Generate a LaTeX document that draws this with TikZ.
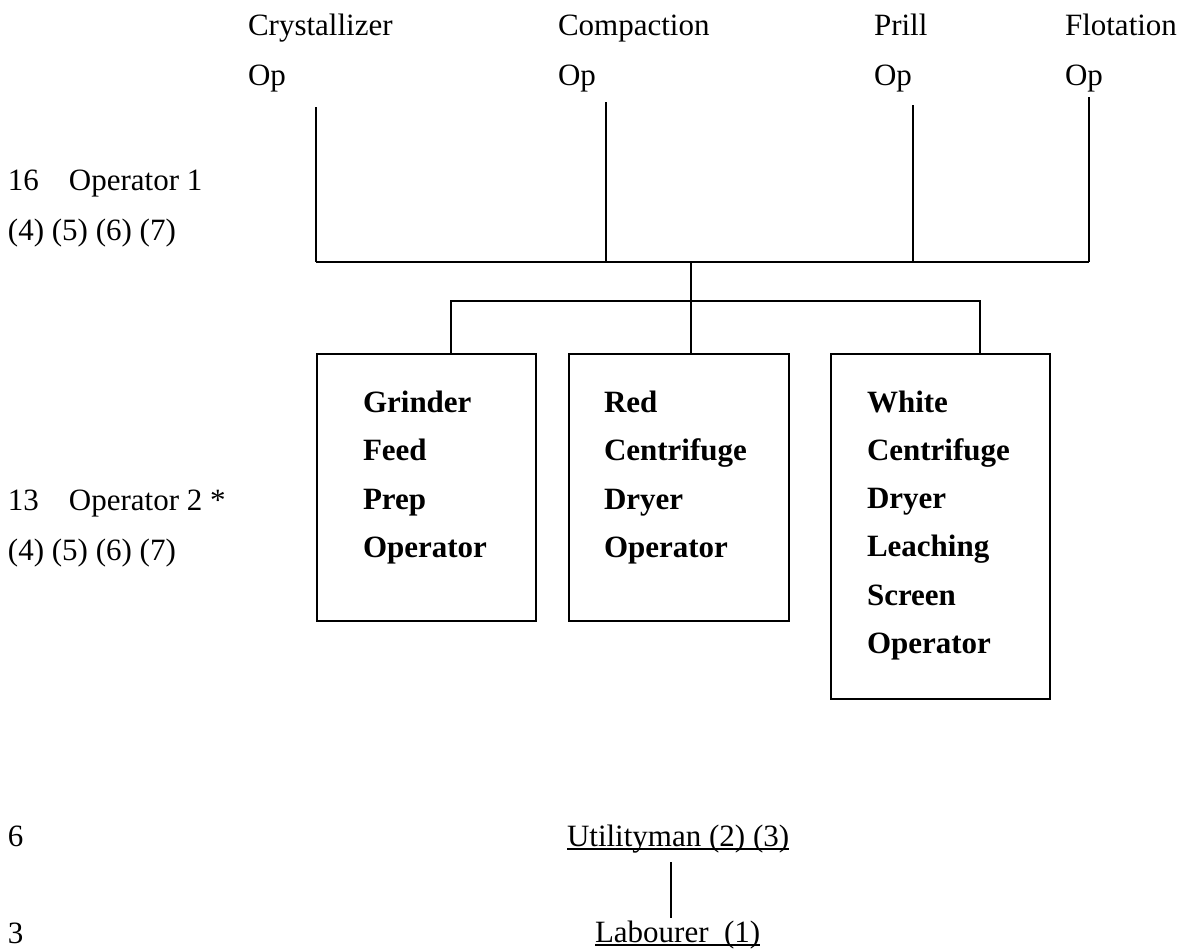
\documentclass[tikz,border=0pt]{standalone}
\usepackage{fontspec}
\setmainfont{Liberation Serif}
\newcommand\mystack[2]{\vtop{\baselineskip=#1pt\relax\lineskiplimit=-100pt #2}}
\tikzset{
  txt/.style={font=\fontsize{31pt}{37pt}\selectfont, anchor=base west, inner sep=0pt, outer sep=0pt},
  btxt/.style={font=\fontsize{31pt}{37pt}\selectfont\bfseries, anchor=base west, inner sep=0pt, outer sep=0pt},
  box/.style={draw, line width=1.3pt, anchor=north west, inner sep=0pt, outer sep=0pt},
  conn/.style={line width=1.3pt},
  uline/.style={line width=1.4pt}
}
\begin{document}
\begin{tikzpicture}[x=1pt,y=-1pt]
\fill[white] (0,0) rectangle (1182,948);
\useasboundingbox (0,0) rectangle (1182,948);

% top labels
\node[txt] (cr) at (248,35) {\mystack{50}{\hbox{Crystallizer}\hbox{Op}}};
\node[txt] (co) at (558,35) {\mystack{50}{\hbox{Compaction}\hbox{Op}}};
\node[txt] (pr) at (874,35) {\mystack{50}{\hbox{Prill}\hbox{Op}}};
\node[txt] (fl) at (1065,35) {\mystack{50}{\hbox{Flotation}\hbox{Op}}};

% left labels
\node[txt] (op1) at (8,190) {\mystack{50}{\hbox{16\hspace{30pt}Operator 1}\hbox{(4) (5) (6) (7)}}};
\node[txt] (op2) at (8,510) {\mystack{50}{\hbox{13\hspace{30pt}Operator 2 *}\hbox{(4) (5) (6) (7)}}};
\node[txt] (n6) at (8,846) {6};
\node[txt] (n3) at (8,943) {3};

% boxes
\node[box, minimum width=219pt, minimum height=267pt] (b1) at (317,354) {};
\node[box, minimum width=220pt, minimum height=267pt] (b2) at (569,354) {};
\node[box, minimum width=219pt, minimum height=345pt] (b3) at (831,354) {};
\node[btxt] (t1) at (363,412) {\mystack{48.5}{\hbox{Grinder}\hbox{Feed}\hbox{Prep}\hbox{Operator}}};
\node[btxt] (t2) at (604,412) {\mystack{48.5}{\hbox{Red}\hbox{Centrifuge}\hbox{Dryer}\hbox{Operator}}};
\node[btxt] (t3) at (867,412) {\mystack{48.3}{\hbox{White}\hbox{Centrifuge}\hbox{Dryer}\hbox{Leaching}\hbox{Screen}\hbox{Operator}}};

% bottom
\node[txt] (util) at (567,846) {Utilityman (2) (3)};
\node[txt] (lab) at (595,942) {Labourer\ \ (1)};
\draw[uline] ([yshift=-3pt]util.base west) -- ([yshift=-3pt]util.base east);
\draw[uline] ([yshift=-3pt]lab.base west) -- ([yshift=-3pt]lab.base east);

% connector coordinates
\coordinate (crT) at (316,107); \coordinate (crB) at (316,262);
\coordinate (coT) at (606,102); \coordinate (coB) at (606,262);
\coordinate (prT) at (913,105); \coordinate (prB) at (913,262);
\coordinate (flT) at (1089,97); \coordinate (flB) at (1089,262);
\coordinate (mid) at (691,262);
\coordinate (brL) at (451,301); \coordinate (brR) at (980,301);
\coordinate (u1) at (671,862); \coordinate (l1) at (671,918);

\draw[conn] (crT) -- (crB);
\draw[conn] (coT) -- (coB);
\draw[conn] (prT) -- (prB);
\draw[conn] (flT) -- (flB);
\draw[conn] (crB) -- (flB);
\draw[conn] (mid) -- (mid |- b2.north);
\draw[conn] (b1.north -| brL) -- (brL) -- (brR) -- (brR |- b3.north);
\draw[conn] (u1) -- (l1);
\end{tikzpicture}
\end{document}
